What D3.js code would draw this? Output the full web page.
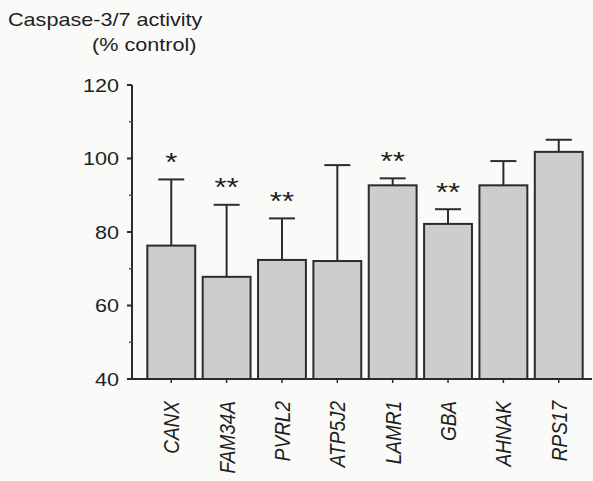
<!DOCTYPE html>
<html>
<head>
<meta charset="utf-8">
<script src="https://cdn.jsdelivr.net/npm/d3@7"></script>
<style>
  body { margin: 0; background: #fafaf9; }
  svg { display: block; }
  text { font-family: "Liberation Sans", Arial, sans-serif; fill: #1e1e1e; }
</style>
</head>
<body>
<div id="canvas"></div>
<script>
const genes = ["CANX", "FAM34A", "PVRL2", "ATP5J2", "LAMR1", "GBA", "AHNAK", "RPS17"];
const means = [76.3, 67.8, 72.4, 72.1, 92.7, 82.2, 92.7, 101.8];
const errTops = [94.3, 87.4, 83.7, 98.2, 94.6, 86.2, 99.3, 105.1];
const stars = ["*", "**", "**", "", "**", "**", "", ""];
const yTicks = [40, 60, 80, 100, 120];
const yMinor = [50, 70, 90, 110];

const w = 593, h = 481;
const sx = 1.2; // the scan is stretched sideways

const svg = d3.select("#canvas").append("svg")
  .attr("width", w).attr("height", h);

const y = d3.scaleLinear().domain([40, 120]).range([379, 85]);
const x = d3.scaleBand().domain(genes).range([144, 586])
  .paddingInner(0.135).paddingOuter(0.06);

function stretched(sel, px, py) {
  return sel.attr("transform", "translate(" + px + "," + py + ") scale(" + sx + ",1)");
}

// title
stretched(svg.append("text"), 8, 26).style("font-size", "18px").text("Caspase-3/7 activity");
stretched(svg.append("text"), 92, 51).style("font-size", "18px").text("(% control)");

// bars
svg.selectAll(".bar").data(genes).enter().append("rect")
  .attr("x", d => x(d))
  .attr("y", (d, i) => y(means[i]))
  .attr("width", x.bandwidth())
  .attr("height", (d, i) => y(40) - y(means[i]))
  .style("fill", "#cdcdcc").style("stroke", "#2b2b2b").style("stroke-width", 2);

// error bars
const capW = 26;
svg.selectAll(".err").data(genes).enter().append("line")
  .attr("x1", d => x(d) + x.bandwidth() / 2).attr("x2", d => x(d) + x.bandwidth() / 2)
  .attr("y1", (d, i) => y(means[i])).attr("y2", (d, i) => y(errTops[i]))
  .style("stroke", "#2b2b2b").style("stroke-width", 2);
svg.selectAll(".cap").data(genes).enter().append("line")
  .attr("x1", d => x(d) + x.bandwidth() / 2 - capW / 2).attr("x2", d => x(d) + x.bandwidth() / 2 + capW / 2)
  .attr("y1", (d, i) => y(errTops[i])).attr("y2", (d, i) => y(errTops[i]))
  .style("stroke", "#2b2b2b").style("stroke-width", 2);

// significance stars
svg.selectAll(".star").data(genes).enter().append("text")
  .attr("text-anchor", "middle")
  .style("font-size", "26px")
  .each(function(d, i) {
    stretched(d3.select(this), x(d) + x.bandwidth() / 2, y(errTops[i]) - 22 + 13.5);
  })
  .text((d, i) => stars[i]);

// y axis
svg.append("line").attr("x1", 132).attr("x2", 132).attr("y1", y(120)).attr("y2", y(40))
  .style("stroke", "#2b2b2b").style("stroke-width", 2);
svg.selectAll(".ytick").data(yTicks).enter().append("line")
  .attr("x1", 127).attr("x2", 132).attr("y1", d => y(d)).attr("y2", d => y(d))
  .style("stroke", "#2b2b2b").style("stroke-width", 2);
svg.selectAll(".yminor").data(yMinor).enter().append("line")
  .attr("x1", 129).attr("x2", 132).attr("y1", d => y(d)).attr("y2", d => y(d))
  .style("stroke", "#555").style("stroke-width", 1.5);
svg.selectAll(".ylab").data(yTicks).enter().append("text")
  .attr("text-anchor", "end")
  .style("font-size", "18px")
  .each(function(d) { stretched(d3.select(this), 119, y(d) + 6.5); })
  .text(d => d);

// x axis
svg.append("line").attr("x1", 132).attr("x2", 592).attr("y1", y(40)).attr("y2", y(40))
  .style("stroke", "#2b2b2b").style("stroke-width", 2);
svg.selectAll(".xtick").data(genes).enter().append("line")
  .attr("x1", d => x(d) + x.bandwidth() / 2).attr("x2", d => x(d) + x.bandwidth() / 2)
  .attr("y1", y(40)).attr("y2", y(40) + 4)
  .style("stroke", "#2b2b2b").style("stroke-width", 1.5);
svg.selectAll(".xlab").data(genes).enter().append("text")
  .attr("text-anchor", "end")
  .style("font-size", "19px").style("font-style", "italic")
  .attr("transform", d => "translate(" + (x(d) + x.bandwidth() / 2 + 8) + "," + 401 + ") scale(" + sx + ",1) rotate(-90)")
  .text(d => d);
</script>
</body>
</html>
